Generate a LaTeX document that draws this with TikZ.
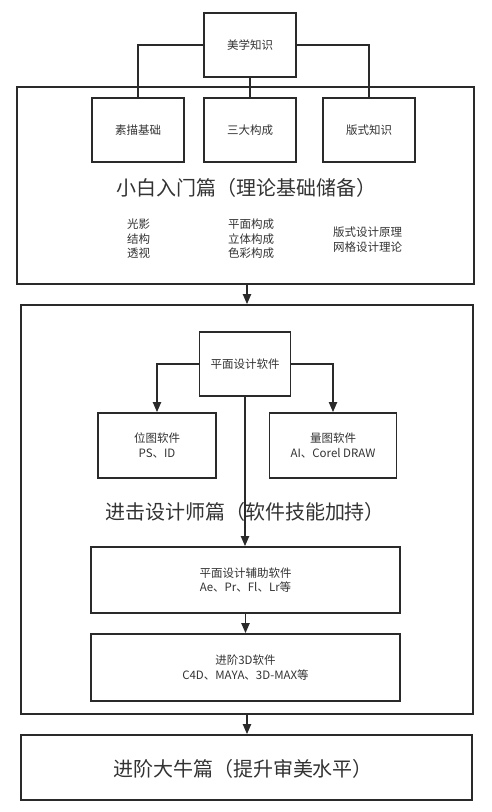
\documentclass[tikz,border=0pt]{standalone}
\usepackage{fontspec}
\setmainfont{Noto Sans CJK SC}
\usetikzlibrary{arrows.meta}
\definecolor{ln}{HTML}{2A2A2A}
\definecolor{tx}{HTML}{333333}
\begin{document}
\begin{tikzpicture}[x=1pt,y=-1pt,
  box/.style={draw=ln,line width=1.6pt,fill=white,rectangle,inner sep=0pt,align=center,text=tx,font=\fontsize{11.5}{14.5}\selectfont},
  frame/.style={draw=ln,line width=1.6pt,rectangle,inner sep=0pt},
  title/.style={text=tx,font=\fontsize{20}{23}\selectfont,inner sep=0pt},
  small/.style={text=tx,font=\fontsize{11.5}{14.5}\selectfont,align=left,inner sep=0pt,anchor=west},
  conn/.style={draw=ln,line width=1.8pt},
  arr/.style={conn,-{Triangle[width=8pt,length=10pt]}}]
\useasboundingbox (0,0) rectangle (492,812);
\fill[white] (0,0) rectangle (492,812);
% frames
\node[frame,minimum width=457pt,minimum height=197pt] (f1) at (245.5,185.5) {};
\node[frame,minimum width=452pt,minimum height=409pt] (f2) at (247,509.5) {};
\node[frame,minimum width=451pt,minimum height=65pt] (f3) at (246.5,767.5) {};
% part 1
\node[box,minimum width=92pt,minimum height=64pt] (mx) at (250,45) {美学知识};
\node[box,minimum width=92pt,minimum height=64pt] (b1) at (138,130) {素描基础};
\node[box,minimum width=92pt,minimum height=64pt] (b2) at (250,130) {三大构成};
\node[box,minimum width=92pt,minimum height=64pt] (b3) at (369,130) {版式知识};
\draw[conn] (mx.west) -| (b1.north);
\draw[conn] (mx.east) -| (b3.north);
\draw[conn] (mx.south) -- (b2.north);
\node[title] (t1) at (246,188) {小白入门篇（理论基础储备）};
\node[small] (s1) at (127,239) {光影\\结构\\透视};
\node[small] (s2) at (228,239) {平面构成\\立体构成\\色彩构成};
\node[small] (s3) at (333,239.5) {版式设计原理\\网格设计理论};
% part 2
\draw[arr] (f1.south -| f2.north) -- (f2.north);
\node[box,minimum width=91pt,minimum height=64pt] (sw) at (245,364) {平面设计软件};
\node[box,minimum width=118pt,minimum height=65pt] (bm) at (157,445.5) {位图软件\\PS、ID};
\node[box,minimum width=127pt,minimum height=65pt] (vc) at (333,445.5) {量图软件\\AI、Corel DRAW};
\draw[arr] (sw.west) -| (bm.north);
\draw[arr] (sw.east) -| (vc.north);
\node[title] (t2) at (245,512) {进击设计师篇（软件技能加持）};
\node[box,minimum width=309pt,minimum height=66pt] (ax) at (245.5,580) {平面设计辅助软件\\Ae、Pr、Fl、Lr等};
\node[box,minimum width=309pt,minimum height=67pt] (d3) at (245.5,667.5) {进阶3D软件\\C4D、MAYA、3D-MAX等};
\draw[arr] (sw.south) -- (sw.south |- ax.north);
\draw[arr] (ax.south) -- (d3.north);
% part 3
\draw[arr] (f2.south) -- (f2.south |- f3.north);
\node[title] (t3) at (243,769) {进阶大牛篇（提升审美水平）};
\end{tikzpicture}
\end{document}
